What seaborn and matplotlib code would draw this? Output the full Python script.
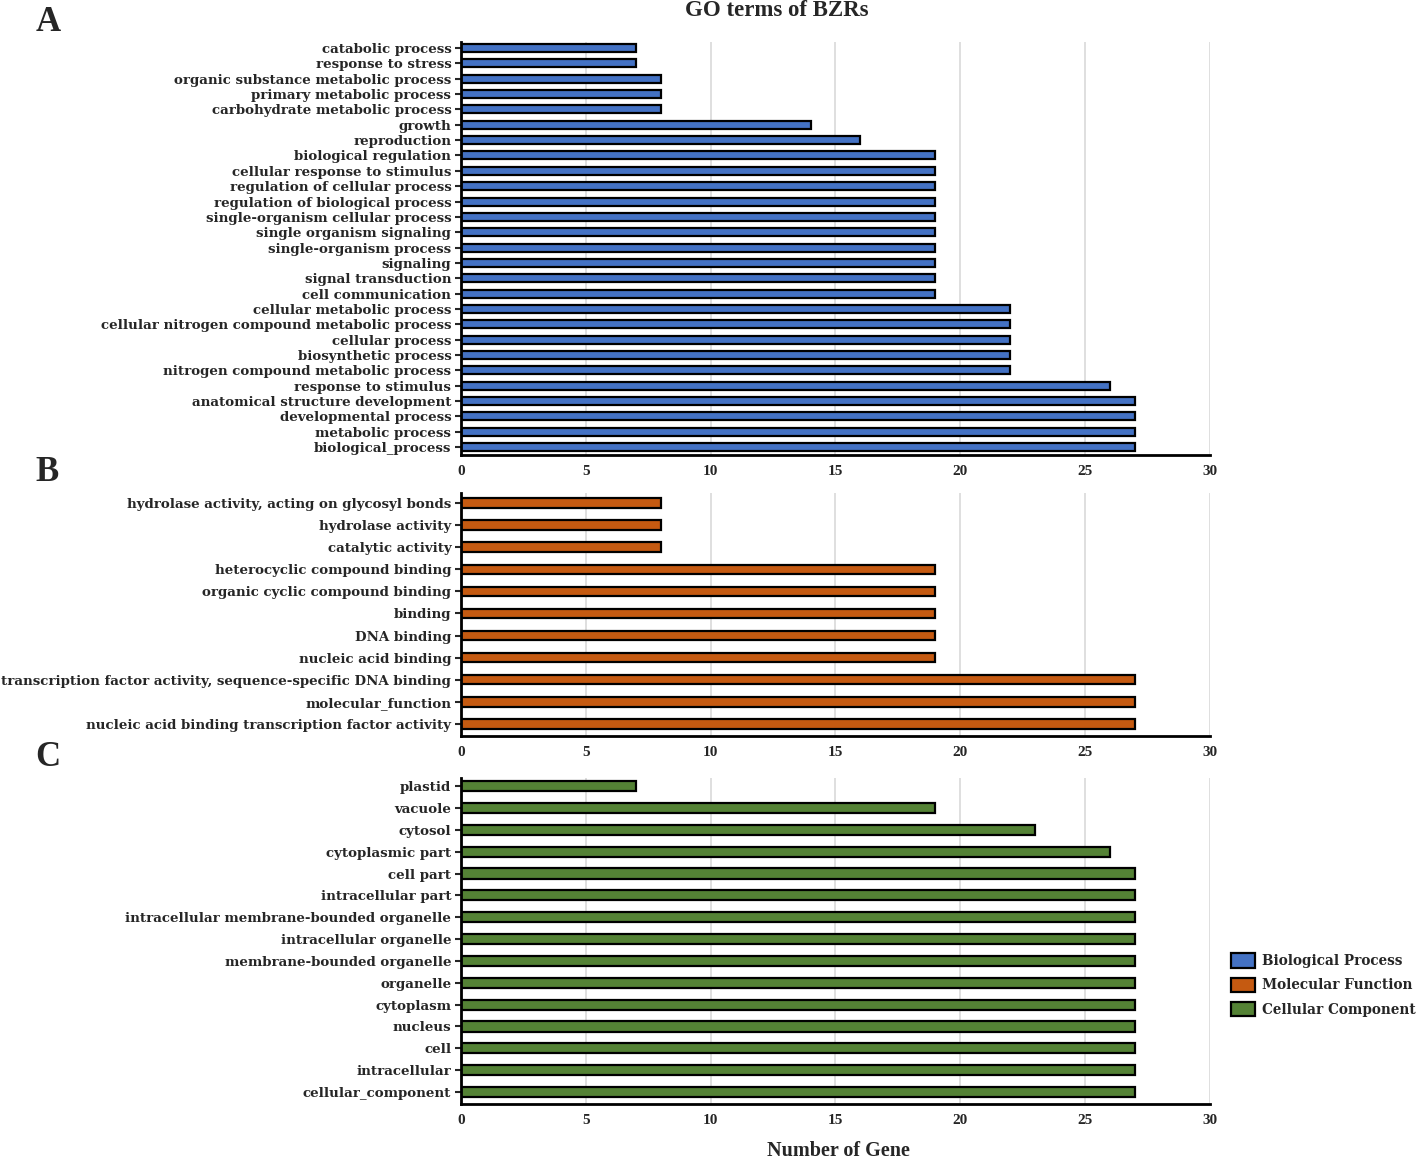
import pandas as pd
import matplotlib.pyplot as plt
import seaborn as sns

# GO terms and gene counts (top to bottom as drawn)
bp_terms = ['catabolic process', 'response to stress', 'organic substance metabolic process',
            'primary metabolic process', 'carbohydrate metabolic process', 'growth', 'reproduction',
            'biological regulation', 'cellular response to stimulus', 'regulation of cellular process',
            'regulation of biological process', 'single-organism cellular process',
            'single organism signaling', 'single-organism process', 'signaling', 'signal transduction',
            'cell communication', 'cellular metabolic process',
            'cellular nitrogen compound metabolic process', 'cellular process', 'biosynthetic process',
            'nitrogen compound metabolic process', 'response to stimulus',
            'anatomical structure development', 'developmental process', 'metabolic process',
            'biological_process']
bp_counts = [7, 7, 8, 8, 8, 14, 16, 19, 19, 19, 19, 19, 19, 19, 19, 19, 19,
             22, 22, 22, 22, 22, 26, 27, 27, 27, 27]

mf_terms = ['hydrolase activity, acting on glycosyl bonds', 'hydrolase activity', 'catalytic activity',
            'heterocyclic compound binding', 'organic cyclic compound binding', 'binding',
            'DNA binding', 'nucleic acid binding',
            'transcription factor activity, sequence-specific DNA binding', 'molecular_function',
            'nucleic acid binding transcription factor activity']
mf_counts = [8, 8, 8, 19, 19, 19, 19, 19, 27, 27, 27]

cc_terms = ['plastid', 'vacuole', 'cytosol', 'cytoplasmic part', 'cell part', 'intracellular part',
            'intracellular membrane-bounded organelle', 'intracellular organelle',
            'membrane-bounded organelle', 'organelle', 'cytoplasm', 'nucleus', 'cell',
            'intracellular', 'cellular_component']
cc_counts = [7, 19, 23, 26, 27, 27, 27, 27, 27, 27, 27, 27, 27, 27, 27]

categories = ['Biological Process', 'Molecular Function', 'Cellular Component']
colors = ['#4472C4', '#C55A11', '#548235']

sns.set_style('white')
plt.rcParams['font.family'] = ['Liberation Serif', 'DejaVu Serif']
plt.rcParams['font.weight'] = 'bold'
wide = {'family': 'DejaVu Serif', 'weight': 'bold', 'size': 9.6}

fig = plt.figure(figsize=(14.18, 11.64), dpi=100)

panels = [
    ('A', bp_terms, bp_counts, [0.3251, 0.6091, 0.5282, 0.3548], (26.51, -0.39), 0.52, 0.981),
    ('B', mf_terms, mf_counts, [0.3251, 0.3677, 0.5282, 0.2088], (10.54, -0.45), 0.42, 0.594),
    ('C', cc_terms, cc_counts, [0.3251, 0.0515, 0.5282, 0.2801], (14.55, -0.37), 0.46, 0.349),
]

for i, (letter, terms, counts, rect, ylim, bw, ly) in enumerate(panels):
    ax = fig.add_axes(rect)
    df = pd.DataFrame({'term': terms, 'count': counts})
    sns.barplot(data=df, x='count', y='term', orient='h', color=colors[i],
                edgecolor='black', linewidth=1.6, width=bw, saturation=1, ax=ax)
    ax.set_xlim(0, 30)
    ax.set_ylim(*ylim)
    ax.set_xticks(range(0, 31, 5))
    ax.xaxis.grid(True, color='#d9d9d9', linewidth=1.2)
    ax.set_axisbelow(True)
    for s in ['top', 'right']:
        ax.spines[s].set_visible(False)
    for s in ['left', 'bottom']:
        ax.spines[s].set_color('black')
        ax.spines[s].set_linewidth(2)
    ax.tick_params(axis='y', left=True, length=4, width=1.5, pad=3)
    ax.tick_params(axis='x', bottom=False, pad=4, labelsize=11)
    for lab in ax.get_yticklabels():
        lab.set_fontproperties(wide)
    for lab in ax.get_xticklabels():
        lab.set_fontweight('bold')
    ax.set_xlabel('')
    ax.set_ylabel('')
    fig.text(0.025, ly, letter, fontsize=25, fontweight='bold', va='center', ha='left')

fig.text(0.548, 0.991, 'GO terms of BZRs', fontsize=16.5, fontweight='bold', ha='center', va='center')
fig.text(0.591, 0.011, 'Number of Gene', fontsize=14.5, fontweight='bold', ha='center', va='center')

handles = [plt.Rectangle((0, 0), 1, 1, facecolor=c, edgecolor='black', linewidth=1.6) for c in colors]
fig.legend(handles, categories, loc='upper left', bbox_to_anchor=(0.868, 0.181), frameon=False,
           prop={'family': 'DejaVu Serif', 'weight': 'bold', 'size': 9.8},
           handlelength=1.8, handleheight=1.25, handletextpad=0.5,
           labelspacing=0.7, borderaxespad=0, borderpad=0)

fig.savefig('out.png', dpi=100)
